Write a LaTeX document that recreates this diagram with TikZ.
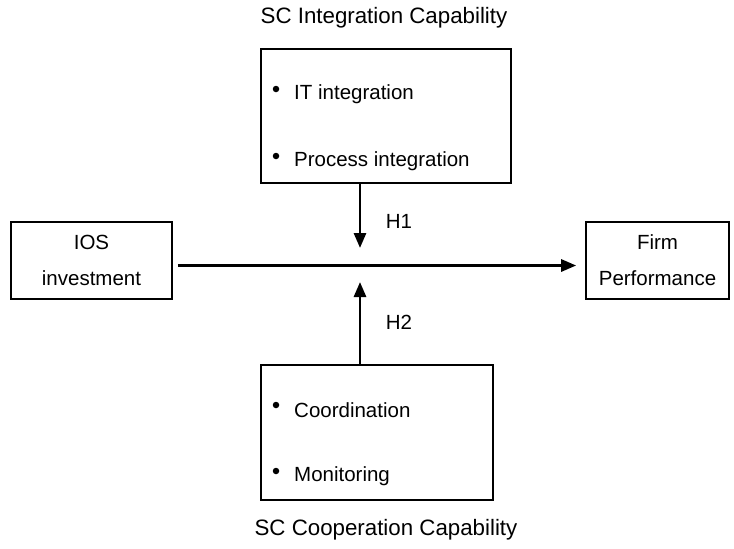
\documentclass[tikz,border=0pt]{standalone}
\usepackage{fontspec}
\setmainfont{Liberation Sans}
\usetikzlibrary{arrows.meta}
\begin{document}
\begin{tikzpicture}[x=1pt,y=-1pt,
  every node/.style={font=\fontsize{20.5}{36}\selectfont, inner sep=0pt},
  title/.style={font=\fontsize{22.3}{30}\selectfont},
  box/.style={draw, line width=1.6pt, rectangle},
  arr/.style={line width=2.8pt, -{Triangle[length=15pt,width=12pt]}},
  item/.style={anchor=west},
  dot/.style={fill=black, draw=none, circle, minimum size=6.5pt}]
\useasboundingbox (0,0) rectangle (734,549);

% capability boxes
\node[box, minimum width=250pt, minimum height=134pt] (integ) at (386,116) {};
\node[box, minimum width=232pt, minimum height=135pt] (coop) at (377,432.5) {};

% construct boxes
\node[box, minimum width=161pt, minimum height=77pt, align=center] (ios) at (91.5,260.5) {IOS\\investment};
\node[box, minimum width=143pt, minimum height=77pt, align=center] (firm) at (657.5,260.5) {Firm\\Performance};

% box titles
\node[title] (titleA) at (384,18) {SC Integration Capability};
\node[title] (titleB) at (386,530) {SC Cooperation Capability};

% bullet items
\node[dot] (d1) at (276,89) {};
\node[item] (i1) at (294,94) {IT integration};
\node[dot] (d2) at (276,156) {};
\node[item] (i2) at (294,161) {Process integration};
\node[dot] (d3) at (276,405) {};
\node[item] (i3) at (294,410) {Coordination};
\node[dot] (d4) at (276,471) {};
\node[item] (i4) at (294,476) {Monitoring};

% main relation and moderating effects
\coordinate (m) at (360,265.5);
\coordinate (t1) at (360,248);
\coordinate (t2) at (360,282);
\draw[arr] ([xshift=5pt]ios.east |- m) -- ([xshift=-9pt]firm.west |- m);
\draw[arr] (t1 |- integ.south) -- (t1);
\draw[arr] (t2 |- coop.north) -- (t2);

\node (h1) at (399,221) {H1};
\node (h2) at (399,322) {H2};
\end{tikzpicture}
\end{document}
